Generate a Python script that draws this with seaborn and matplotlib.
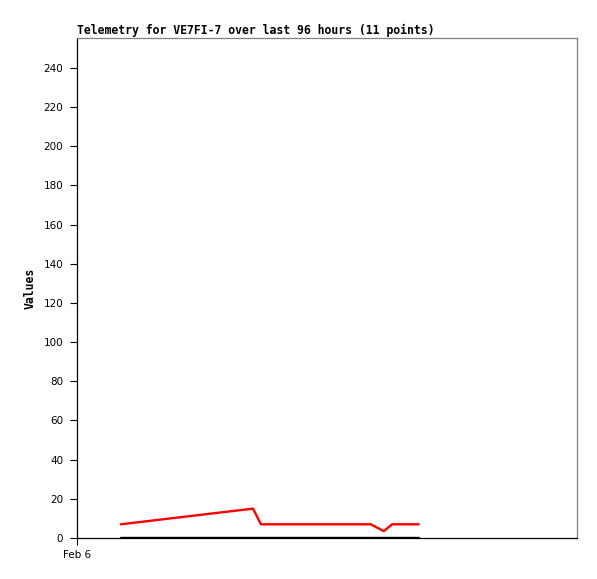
import matplotlib
matplotlib.use("Agg")
import matplotlib.pyplot as plt
import seaborn as sns
import pandas as pd

# Data (hours since Feb 6 00:00)
hours = [8.4, 33.8, 35.3, 41.0, 46.0, 51.0, 56.4, 58.9, 60.5, 63.0, 65.6]
series_red = [7, 15, 7, 7, 7, 7, 7, 3.5, 7, 7, 7]
series_black = [0, 0, 0, 0, 0, 0, 0, 0, 0, 0, 0]
x_tick_pos = [0]
x_tick_labels = ["Feb 6"]
y_ticks = [0, 20, 40, 60, 80, 100, 120, 140, 160, 180, 200, 220, 240]

df = pd.DataFrame({
    "hours": hours * 2,
    "value": series_red + series_black,
    "series": ["red"] * len(hours) + ["black"] * len(hours),
})

sns.set_style("white")
plt.rcParams["font.family"] = ["DejaVu Sans"]
plt.rcParams["text.color"] = "black"
plt.rcParams["axes.labelcolor"] = "black"
plt.rcParams["xtick.color"] = "black"
plt.rcParams["ytick.color"] = "black"

fig = plt.figure(figsize=(5.97, 5.79), dpi=100)
ax = fig.add_axes([77 / 597, 41 / 579, 500 / 597, 500 / 579])

sns.lineplot(data=df, x="hours", y="value", hue="series",
             palette={"red": "#ff0000", "black": "#000000"},
             linewidth=1.7, legend=False, ax=ax, estimator=None, sort=False)

ax.set_xlim(0, 96)
ax.set_ylim(0, 255.3)
ax.set_yticks(y_ticks)
ax.set_yticklabels([str(v) for v in y_ticks], fontsize=7.5)
ax.set_xticks(x_tick_pos)
ax.set_xticklabels(x_tick_labels, fontsize=7.5)
ax.tick_params(axis="both", direction="out", length=5, width=0.8, colors="black", pad=5,
               left=True, bottom=True)
ax.tick_params(axis="x", pad=4)

for side in ["left", "bottom"]:
    ax.spines[side].set_color("black")
    ax.spines[side].set_linewidth(0.9)
for side in ["top", "right"]:
    ax.spines[side].set_color("#808080")
    ax.spines[side].set_linewidth(0.9)

ax.set_xlabel("")
ax.set_ylabel("Values", fontsize=8.3, fontweight="bold", family="DejaVu Sans Mono",
              labelpad=5, color="black")
ax.set_title("Telemetry for VE7FI-7 over last 96 hours (11 points)", loc="left",
             fontsize=8.3, fontweight="bold", family="DejaVu Sans Mono", pad=3, color="black")

fig.savefig("out.png", dpi=100, facecolor="white")
